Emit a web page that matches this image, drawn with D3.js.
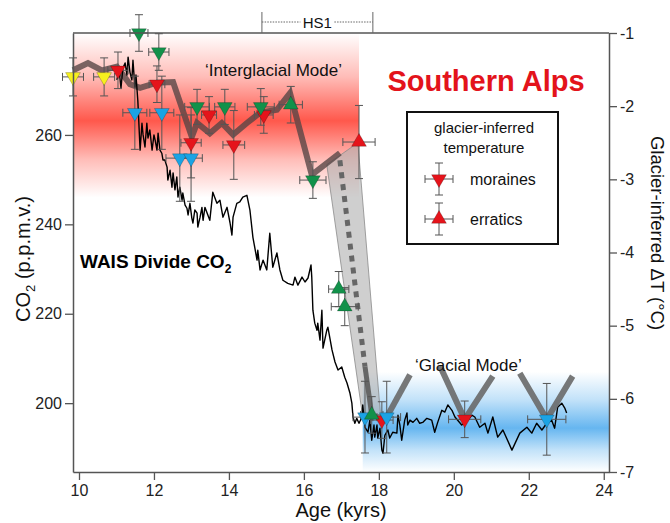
<!DOCTYPE html>
<html>
<head>
<meta charset="utf-8">
<script src="https://cdn.jsdelivr.net/npm/d3@7"></script>
<style>
  body { margin: 0; background: #fff; }
  text { font-family: "Liberation Sans", Arial, Helvetica, sans-serif; }
</style>
</head>
<body>
<svg id="chart" width="670" height="523"></svg>
<script>
// WAIS Divide ice-core CO2: [age (kyr), CO2 (ppmv)]
const waisCO2 = [
  [11.01,272.3],[11.07,274.5],[11.12,270.5],[11.17,274.9],[11.23,276.1],[11.28,273.4],
  [11.31,277.4],[11.36,274.0],[11.41,272.3],[11.44,276.7],[11.49,270.7],[11.52,273.4],
  [11.57,267.6],[11.63,256.6],[11.68,262.6],[11.71,260.0],[11.76,257.3],[11.81,262.6],
  [11.84,259.3],[11.89,261.1],[11.95,256.6],[12.00,260.0],[12.03,258.9],[12.08,256.6],
  [12.11,260.4],[12.16,256.6],[12.21,255.9],[12.24,254.4],[12.29,254.4],[12.35,252.8],
  [12.37,249.9],[12.43,252.1],[12.48,248.3],[12.51,251.5],[12.56,247.7],[12.61,250.6],
  [12.64,246.1],[12.69,248.3],[12.75,245.4],[12.77,247.0],[12.83,244.3],[12.88,243.6],
  [12.91,242.1],[12.96,244.7],[13.01,241.4],[13.04,240.3],[13.09,243.2],[13.15,242.5],
  [13.17,239.4],[13.23,241.6],[13.28,243.8],[13.31,240.9],[13.36,243.8],[13.49,240.9],
  [13.57,247.2],[13.68,244.7],[13.76,245.4],[13.84,241.6],[13.95,243.8],[14.03,240.3],
  [14.08,237.6],[14.11,241.6],[14.21,244.7],[14.29,245.0],[14.37,246.1],[14.48,246.5],
  [14.56,243.2],[14.64,237.1],[14.75,232.0],[14.77,234.2],[14.83,229.8],[14.91,232.0],
  [15.01,229.8],[15.09,238.0],[15.17,230.4],[15.28,233.6],[15.36,229.8],[15.44,227.5],
  [15.57,226.8],[15.71,226.4],[15.76,228.2],[15.84,226.4],[15.95,228.2],[16.03,227.1],
  [16.11,228.0],[16.19,230.9],[16.21,228.2],[16.24,220.8],[16.29,217.9],[16.35,216.3],
  [16.37,217.9],[16.43,214.1],[16.48,220.8],[16.51,212.3],[16.61,216.3],[16.64,217.0],
  [16.75,211.9],[16.83,209.2],[16.91,207.4],[17.01,208.1],[17.09,205.8],[17.15,204.5],
  [17.23,202.2],[17.28,200.0],[17.31,196.9],[17.36,195.5],[17.41,196.6],[17.47,195.5],
  [17.55,196.9],[17.57,199.6],[17.63,194.6],[17.71,193.5],[17.76,196.2],[17.81,191.7],
  [17.87,195.1],[17.89,192.4],[17.95,195.1],[17.97,192.2],[18.03,194.4],[18.08,189.5],
  [18.11,188.8],[18.16,192.8],[18.24,194.0],[18.29,192.2],[18.37,193.5],[18.48,193.3],
  [18.51,197.3],[18.56,195.1],[18.61,191.7],[18.69,196.2],[18.75,197.8],[18.77,195.1],
  [18.83,196.2],[18.91,195.7],[19.01,196.6],[19.09,195.5],[19.17,195.7],[19.28,196.6],
  [19.41,196.2],[19.49,193.5],[19.57,195.7],[19.68,198.4],[19.76,198.0],[19.84,199.6],
  [19.95,198.4],[20.03,196.9],[20.21,195.1],[20.37,196.2],[20.48,197.3],[20.56,196.9],
  [20.69,194.6],[20.83,195.5],[20.91,193.3],[21.04,196.9],[21.17,192.4],[21.31,194.0],
  [21.55,189.5],[21.76,193.3],[21.95,194.6],[22.08,193.3],[22.21,195.5],[22.35,194.0],
  [22.48,195.5],[22.61,196.2],[22.69,194.4],[22.77,199.1],[22.88,200.0],[22.96,198.9],
  [23.01,197.8]
];

// Glacier-inferred temperature: [age, dT, age error, dT error]
const yellowMoraines = [[9.84,-1.60,0.28,0.26],[10.67,-1.60,0.28,0.26]];
const redMoraines = [
  [11.04,-1.51,0.27,0.25],[12.08,-1.70,0.21,0.25],[12.99,-2.50,0.27,0.48],
  [13.47,-2.12,0.20,0.25],[14.13,-2.53,0.29,0.47],[14.93,-2.12,0.25,0.25],
  [18.08,-6.29,0.30,0.25],[20.29,-6.28,0.43,0.25]
];
const blueMoraines = [
  [11.49,-2.09,0.32,0.50],[12.21,-2.09,0.32,0.50],[12.69,-2.71,0.37,0.59],
  [12.99,-2.71,0.30,0.59],[17.63,-6.25,0.32,0.49],[18.21,-6.25,0.37,0.49],
  [22.48,-6.28,0.51,0.49]
];
const greenMoraines = [
  [11.60,-1.00,0.24,0.25],[12.13,-1.26,0.27,0.25],[13.15,-2.01,0.33,0.24],
  [13.89,-2.01,0.27,0.24],[14.85,-2.01,0.36,0.25],[16.24,-3.01,0.35,0.25]
];
const greenErratics = [
  [15.65,-1.98,0.31,0.25],[16.93,-4.50,0.27,0.24],[17.09,-4.74,0.36,0.26],
  [17.81,-6.22,0.30,0.25]
];
const redErratics = [[17.47,-2.49,0.43,0.50]];

// Composite interglacial temperature curve: [age, dT]
const compositeCurve = [
  [9.84,-1.51],[10.24,-1.41],[10.61,-1.51],[11.01,-1.46],[11.36,-1.70],[11.63,-1.75],
  [12.08,-1.68],[12.51,-1.67],[13.01,-2.42],[13.15,-2.23],[13.49,-2.37],[13.81,-2.23],
  [14.11,-2.39],[14.48,-2.23],[14.83,-2.09],[15.28,-2.05],[15.63,-1.82],[16.21,-2.94],
  [16.96,-2.64]
];
// Envelope of the deglacial transition: [age, dT]
const transitionEnvelope = [[16.61,-2.80],[17.44,-2.50],[18.05,-6.25],[17.57,-6.25]];
const transitionDashed = [[16.96,-2.74],[17.63,-5.56]];
const transitionSolid = [[17.63,-5.56],[17.81,-6.22]];
// Glacial-mode "V" markers: [age, dT] polylines
const glacialVs = [
  [[18.21,-6.25],[18.83,-5.67]],
  [[19.63,-5.55],[20.29,-6.28],[21.04,-5.69]],
  [[21.76,-5.65],[22.48,-6.28],[23.17,-5.69]]
];
// Climate-mode bands: [age start, age end, dT top, dT peak, dT bottom]
const interglacialBand = [9.84, 17.47, -1.0, -2.2, -3.25];
const glacialBand = [17.57, 24.14, -5.63, -6.4, -7.0];
const hs1Span = [14.88, 17.84];

const ageTicks = [10, 12, 14, 16, 18, 20, 22, 24];
const co2Ticks = [200, 220, 240, 260];
const tempTicks = [-7, -6, -5, -4, -3, -2, -1];

const colors = { yellow: "#f6f01e", red: "#e5141b", blue: "#1ba3e4", green: "#12914a" };

const svg = d3.select("#chart");
const L = 73, R = 609, T = 33, B = 472;

const x = d3.scaleLinear().domain([9.84, 24.14]).range([L, R]);
const yC = d3.scaleLinear().domain([184.6, 282.8]).range([B, T]);
const yT = d3.scaleLinear().domain([-7, -1]).range([B, T]);

// band gradients
const defs = svg.append("defs");
function bandGradient(id, band, color) {
  const [, , top, peak, bottom] = band;
  const g = defs.append("linearGradient").attr("id", id)
    .attr("gradientUnits", "userSpaceOnUse")
    .attr("x1", 0).attr("x2", 0).attr("y1", yT(top)).attr("y2", yT(bottom));
  const p = (yT(peak) - yT(top)) / (yT(bottom) - yT(top));
  [[0, 0], [p * 0.5, 0.4], [p, 1], [p + (1 - p) * 0.5, 0.4], [1, 0]].forEach(([o, a]) => {
    g.append("stop").attr("offset", o).attr("stop-color", color).attr("stop-opacity", a);
  });
}
bandGradient("gradInter", interglacialBand, "#ff584c");
bandGradient("gradGlacial", glacialBand, "#66b6f0");

[[interglacialBand, "gradInter"], [glacialBand, "gradGlacial"]].forEach(([b, id]) => {
  svg.append("rect")
    .attr("x", x(b[0])).attr("width", x(b[1]) - x(b[0]))
    .attr("y", yT(b[2])).attr("height", yT(b[4]) - yT(b[2]))
    .attr("fill", `url(#${id})`);
});

const lineT = d3.line().x(d => x(d[0])).y(d => yT(d[1]));

// transition envelope and dashed path
svg.append("path").attr("d", lineT(transitionEnvelope) + "Z")
  .attr("fill", "rgba(175,175,175,0.6)").attr("stroke", "#8a8a8a").attr("stroke-width", 0.8);
svg.append("path").attr("d", lineT(transitionDashed))
  .attr("fill", "none").attr("stroke", "#666").attr("stroke-width", 5)
  .attr("stroke-dasharray", "6,6");
svg.append("path").attr("d", lineT(transitionSolid))
  .attr("fill", "none").attr("stroke", "#666").attr("stroke-width", 5);

// composite curve
svg.append("path").attr("d", lineT(compositeCurve))
  .attr("fill", "none").attr("stroke", "rgba(85,68,68,0.78)").attr("stroke-width", 6)
  .attr("stroke-linejoin", "miter");

// WAIS Divide CO2
svg.append("path")
  .attr("d", d3.line().x(d => x(d[0])).y(d => yC(d[1]))(waisCO2))
  .attr("fill", "none").attr("stroke", "#000").attr("stroke-width", 1.4)
  .attr("stroke-linejoin", "round");

// glacial V markers
glacialVs.forEach(v => {
  svg.append("path").attr("d", lineT(v))
    .attr("fill", "none").attr("stroke", "rgba(105,105,105,0.9)").attr("stroke-width", 6)
    .attr("stroke-linejoin", "miter");
});

// error bars then triangles
const groups = [
  [yellowMoraines, colors.yellow, false],
  [redMoraines, colors.red, false],
  [blueMoraines, colors.blue, false],
  [greenMoraines, colors.green, false],
  [redErratics, colors.red, true],
  [greenErratics, colors.green, true]
];
const bars = svg.append("g").attr("stroke", "#555").attr("stroke-width", 1).attr("fill", "none");
function errorBar(g, cx, cy, dx, dy) {
  const c = 4;
  g.append("path").attr("d",
    `M${cx - dx},${cy}H${cx + dx}M${cx - dx},${cy - c}V${cy + c}M${cx + dx},${cy - c}V${cy + c}` +
    `M${cx},${cy - dy}V${cy + dy}M${cx - c},${cy - dy}H${cx + c}M${cx - c},${cy + dy}H${cx + c}`);
}
groups.forEach(([data]) => data.forEach(d => {
  errorBar(bars, x(d[0]), yT(d[1]), x(d[0] + d[2]) - x(d[0]), yT(d[1]) - yT(d[1] + d[3]));
}));
const tri = d3.symbol(d3.symbolTriangle, 95);
function drawTriangle(g, cx, cy, color, up) {
  g.append("path").attr("d", tri())
    .attr("transform", `translate(${cx},${cy}) rotate(${up ? 0 : 180})`)
    .attr("fill", color).attr("stroke", "rgba(0,0,0,0.35)").attr("stroke-width", 0.6);
}
const marks = svg.append("g");
groups.forEach(([data, color, up]) => data.forEach(d => drawTriangle(marks, x(d[0]), yT(d[1]), color, up)));

// axes
const axisStyle = g => {
  g.selectAll(".domain").attr("stroke", "#555").attr("stroke-width", 1.5);
  g.selectAll(".tick line").attr("stroke", "#555").attr("stroke-width", 1.3);
  g.selectAll(".tick text").attr("font-size", 16).attr("fill", "#222")
    .attr("font-family", '"Liberation Sans", Arial, sans-serif');
};
svg.append("g").attr("transform", `translate(${L},0)`)
  .call(d3.axisLeft(yC).tickValues(co2Ticks).tickSize(8).tickSizeOuter(0).tickPadding(3))
  .call(axisStyle);
svg.append("g").attr("transform", `translate(0,${B})`)
  .call(d3.axisBottom(x).tickValues(ageTicks).tickSize(8).tickSizeOuter(0).tickPadding(5))
  .call(axisStyle);
svg.append("g").attr("transform", `translate(${R},0)`)
  .call(d3.axisRight(yT).tickValues(tempTicks).tickFormat(d => String(d)).tickSize(8).tickSizeOuter(0).tickPadding(3))
  .call(axisStyle);
svg.append("line").attr("x1", L).attr("x2", R).attr("y1", T).attr("y2", T)
  .attr("stroke", "#555").attr("stroke-width", 1.5);

// axis titles
svg.append("text").attr("transform", "translate(30,259) rotate(-90)")
  .attr("text-anchor", "middle").attr("font-size", 20).attr("fill", "#111")
  .call(t => {
    t.append("tspan").text("CO");
    t.append("tspan").attr("font-size", 13).attr("dy", 5).text("2");
    t.append("tspan").attr("dy", -5).text(" (p.p.m.v.)");
  });
svg.append("text").attr("x", 341).attr("y", 517).attr("text-anchor", "middle")
  .attr("font-size", 20).attr("fill", "#111").text("Age (kyrs)");
svg.append("text").attr("transform", "translate(651,233) rotate(90)")
  .attr("text-anchor", "middle").attr("font-size", 18.5).attr("fill", "#111")
  .text("Glacier-inferred \u0394T (\u00B0C)");

// HS1 bracket
const hs = svg.append("g").attr("stroke", "#666").attr("fill", "none");
const hsY = 22, hsL = x(hs1Span[0]), hsR = x(hs1Span[1]), hsMid = (hsL + hsR) / 2;
hs.append("path").attr("d", `M${hsL},12V${T}M${hsR},12V${T}`).attr("stroke-width", 1);
hs.append("path").attr("d", `M${hsL},${hsY}H${hsMid - 17}M${hsMid + 17},${hsY}H${hsR}`)
  .attr("stroke-width", 1).attr("stroke-dasharray", "1.5,1.2");
svg.append("text").attr("x", hsMid).attr("y", 28).attr("text-anchor", "middle")
  .attr("font-size", 15).attr("fill", "#111").text("HS1");

// annotations
svg.append("text").attr("x", 205).attr("y", 76).attr("font-size", 17).attr("fill", "#111")
  .text("\u2018Interglacial Mode\u2019");
svg.append("text").attr("x", 415).attr("y", 371).attr("font-size", 17).attr("fill", "#111")
  .text("\u2018Glacial Mode\u2019");
svg.append("text").attr("x", 80).attr("y", 268).attr("font-size", 19).attr("font-weight", "bold")
  .attr("fill", "#000")
  .call(t => {
    t.append("tspan").text("WAIS Divide CO");
    t.append("tspan").attr("font-size", 12).attr("dy", 5).text("2");
  });
svg.append("text").attr("x", 486).attr("y", 91).attr("text-anchor", "middle")
  .attr("font-size", 29).attr("font-weight", "bold").attr("fill", "#e3131b")
  .text("Southern Alps");

// legend
const lg = svg.append("g");
lg.append("rect").attr("x", 407).attr("y", 112).attr("width", 151).attr("height", 132)
  .attr("fill", "#fff").attr("stroke", "#111").attr("stroke-width", 2);
lg.append("text").attr("x", 484).attr("y", 133).attr("text-anchor", "middle")
  .attr("font-size", 15).attr("fill", "#111").text("glacier-inferred");
lg.append("text").attr("x", 484).attr("y", 153).attr("text-anchor", "middle")
  .attr("font-size", 15).attr("fill", "#111").text("temperature");
const lgBars = lg.append("g").attr("stroke", "#555").attr("stroke-width", 1).attr("fill", "none");
[[179, false, "moraines"], [219, true, "erratics"]].forEach(([cy, up, label]) => {
  errorBar(lgBars, 439, cy, 14, 16);
  drawTriangle(lg, 439, cy, colors.red, up);
  lg.append("text").attr("x", 470).attr("y", cy + 6).attr("font-size", 16).attr("fill", "#111").text(label);
});
</script>
</body>
</html>
